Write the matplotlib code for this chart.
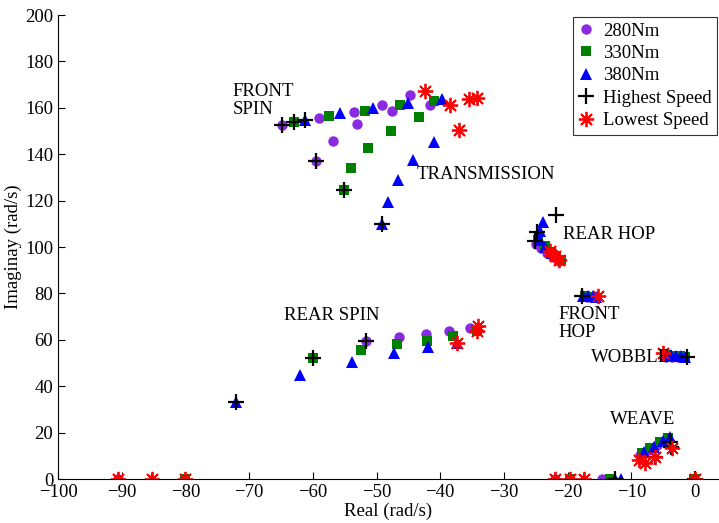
import matplotlib.pyplot as plt

plt.rcParams['font.family'] = ['Liberation Serif', 'DejaVu Serif']
plt.rcParams['mathtext.fontset'] = 'stix'

# eigenvalues (real, imag) for each torque setting
x280 = [-64.9, -59.1, -53.6, -49.1, -44.7,
        -59.5, -56.8, -53.0, -47.5, -41.6,
        -51.7, -46.5, -42.2, -38.6, -35.4,
        -25.0, -24.2, -23.2, -22.3, -21.4,
        -17.0, -16.3,
        -4.6, -3.6, -2.6, -1.8,
        -8.6, -7.4, -6.0, -4.8,
        -90.6, -22.0, -14.6, -0.2]
y280 = [152.8, 155.7, 158.3, 161.0, 165.4,
        137.2, 145.9, 153.1, 158.8, 161.4,
        59.7, 61.2, 62.6, 64.0, 65.3,
        101.4, 99.5, 97.5, 95.5, 94.0,
        78.4, 78.4,
        52.8, 52.6, 52.5, 52.4,
        10.4, 12.5, 14.6, 16.4,
        0, 0, 0, 0]

x330 = [-63.0, -57.4, -51.8, -46.3, -40.9,
        -55.1, -54.0, -51.3, -47.7, -43.4,
        -60.0, -52.5, -46.8, -42.1, -38.0, -34.3,
        -24.6, -23.6, -22.6, -21.8, -21.0,
        -17.3, -16.0,
        -4.4, -3.4, -2.4, -1.6,
        -8.3, -7.0, -5.5, -4.2,
        -80.0, -19.7, -13.3, -0.2]
y330 = [153.8, 156.4, 158.8, 161.0, 162.8,
        124.7, 134.1, 142.6, 149.9, 155.9,
        52.1, 55.7, 58.1, 59.7, 61.7, 63.6,
        103.0, 100.5, 98.0, 96.0, 94.5,
        78.8, 78.6,
        53.3, 53.1, 52.9, 52.7,
        11.2, 13.5, 15.8, 17.5,
        0, 0, 0, 0]

x380 = [-61.2, -55.8, -50.5, -45.0, -39.7,
        -49.1, -48.2, -46.6, -44.3, -40.9,
        -72.0, -62.0, -53.8, -47.3, -41.9, -37.3,
        -23.9, -24.3, -24.4, -23.5, -22.5,
        -17.6, -16.8, -16.0, -15.5,
        -4.5, -3.8, -3.0, -2.2, -1.5,
        -8.0, -6.5, -5.0, -4.0,
        -85.3, -17.5, -12.5, -11.6]
y380 = [154.6, 157.8, 160.0, 162.1, 163.6,
        110.0, 119.3, 129.0, 137.7, 145.2,
        33.4, 44.9, 50.6, 54.2, 57.1, 58.8,
        110.8, 106.7, 103.2, 100.0, 97.5,
        79.0, 79.0, 78.8, 78.6,
        53.5, 53.3, 53.2, 53.0, 52.8,
        11.5, 14.0, 16.3, 18.2,
        0, 0, 0, 0]

# speed extremes
x_high = [-64.9, -63.0, -61.2, -59.5, -55.1, -49.1,
          -51.7, -60.0, -72.0,
          -21.8, -24.8, -25.1,
          -17.7, -1.3,
          -6.2, -3.8, -4.0,
          -12.6, 0.0]
y_high = [152.8, 153.8, 154.6, 137.2, 124.7, 110.0,
          59.7, 52.1, 33.4,
          113.9, 106.3, 102.4,
          79.1, 52.4,
          9.6, 13.9, 16.0,
          0, 0]

x_low = [-42.4, -38.5, -35.5, -34.2, -37.0,
         -37.3, -34.3, -34.0,
         -22.8, -21.9, -21.3,
         -15.3, -5.1,
         -8.8, -7.8, -6.2, -3.6,
         -90.6, -85.3, -80.0, -22.0, -19.7, -17.5, 0.0]
y_low = [167.2, 161.4, 164.0, 164.3, 150.6,
         58.8, 63.6, 66.0,
         98.1, 96.2, 94.2,
         79.1, 54.2,
         8.2, 6.8, 9.6, 13.2,
         0, 0, 0, 0, 0, 0, 0]

mode_names = ['FRONT\nSPIN', 'TRANSMISSION', 'REAR HOP', 'FRONT\nHOP',
              'WOBBLE', 'REAR SPIN', 'WEAVE']
mode_x = [-72.6, -43.7, -20.7, -21.5, -16.4, -64.6, -13.4]
mode_y = [163.1, 131.2, 105.3, 66.9, 52.2, 70.3, 25.5]

fig = plt.figure(figsize=(7.19, 5.23), dpi=100)
ax = fig.add_axes([0.0807, 0.0841, 0.9193, 0.8872])

ax.plot(x280, y280, 'o', color='#8a2be2', markersize=7.5, markeredgewidth=0,
        label='280Nm')
ax.plot(x330, y330, 's', color='#008000', markersize=6.5, markeredgewidth=0,
        label='330Nm')
ax.plot(x380, y380, '^', color='#0000ff', markersize=8.5, markeredgewidth=0,
        label='380Nm')
ax.plot(x_high, y_high, '+', color='black', markersize=11, markeredgewidth=1.6,
        label='Highest Speed')
ax.plot(x_low, y_low, marker=(8, 2, 0), linestyle='none', color='red',
        markersize=11, markeredgewidth=1.3, label='Lowest Speed')

for name, mx, my in zip(mode_names, mode_x, mode_y):
    ax.text(mx, my, name, fontsize=13.5, ha='left', va='center',
            linespacing=1.1)

ax.set_xlim(-100, 3.77)
ax.set_ylim(0, 200)
ax.set_xticks(range(-100, 1, 10))
ax.set_yticks(range(0, 201, 20))
ax.tick_params(direction='in', length=5, labelsize=13.5, top=False, right=False)
ax.spines['top'].set_visible(False)
ax.spines['right'].set_visible(False)
ax.set_xlabel('Real (rad/s)', fontsize=13.5, labelpad=1)
ax.set_ylabel('Imaginay (rad/s)', fontsize=13.5, labelpad=2)

leg = ax.legend(loc='upper right', bbox_to_anchor=(1.0, 1.0), fontsize=13.5,
                handlelength=0.8, handletextpad=0.5, labelspacing=0.28,
                borderpad=0.3, borderaxespad=0.1, fancybox=False,
                frameon=True, numpoints=1)
leg.get_frame().set_edgecolor('black')
leg.get_frame().set_linewidth(0.8)

fig.savefig('out.png', dpi=100)
